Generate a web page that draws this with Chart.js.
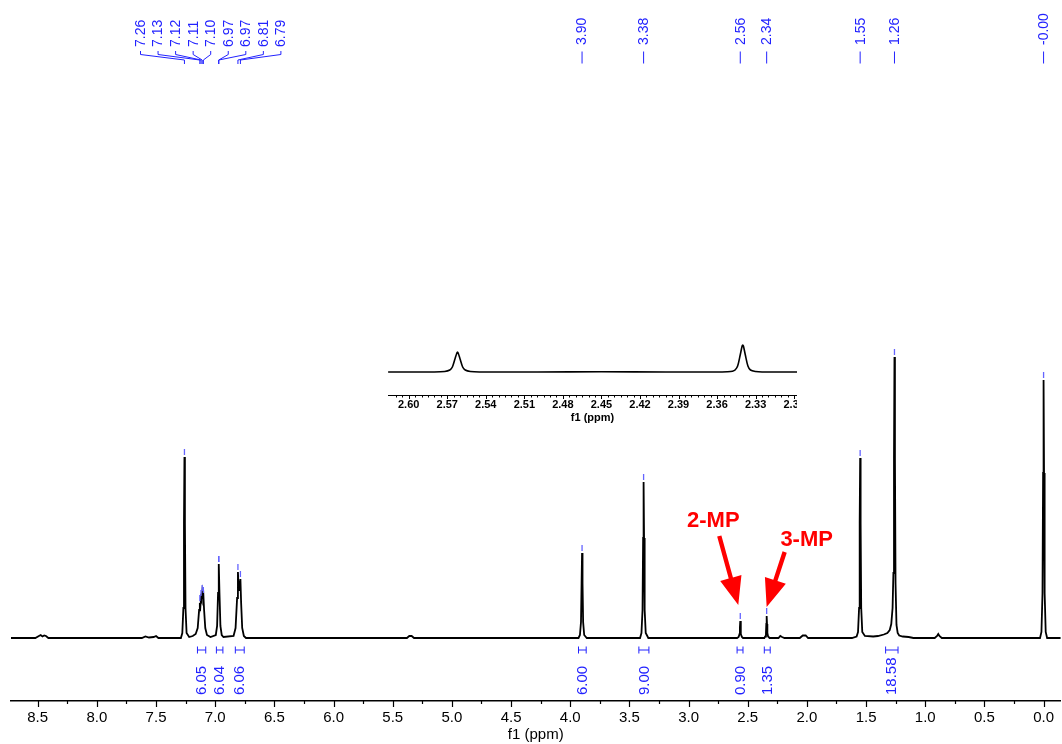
<!DOCTYPE html>
<html>
<head>
<meta charset="utf-8">
<script src="https://cdn.jsdelivr.net/npm/chart.js@4.4.1/dist/chart.umd.min.js"></script>
<style>
  html, body { margin: 0; padding: 0; background: #fff; }
  #wrap { position: relative; width: 1062px; height: 744px; overflow: hidden; }
  #main { position: absolute; left: 0; top: 0; }
  #insetBox { position: absolute; left: 380px; top: 325px; width: 417px; height: 100px; overflow: hidden; }
  #inset { position: absolute; left: 0; top: 0; }
</style>
</head>
<body>
<div id="wrap">
  <canvas id="main" width="1062" height="744"></canvas>
  <div id="insetBox"><canvas id="inset" width="440" height="100"></canvas></div>
</div>
<script>
// 1H spectrum trace, chemical shift (ppm) and intensity (arbitrary)
const specPpm = [
  8.73, 8.52, 8.49, 8.475, 8.46, 8.445, 8.43, 8.41,
  7.62, 7.59, 7.56, 7.52, 7.50, 7.48,
  7.29, 7.278, 7.269, 7.264, 7.26, 7.256, 7.251, 7.242, 7.22,
  7.19, 7.165, 7.148, 7.136, 7.13, 7.125, 7.12, 7.115, 7.11, 7.105, 7.10, 7.094, 7.084, 7.07, 7.04,
  6.995, 6.984, 6.976, 6.97, 6.964, 6.956, 6.945, 6.93,
  6.845, 6.828, 6.815, 6.808, 6.801, 6.797, 6.787, 6.781, 6.772, 6.758, 6.74,
  5.38, 5.36, 5.34, 5.32,
  3.93, 3.918, 3.909, 3.904, 3.90, 3.896, 3.891, 3.882, 3.86,
  3.41, 3.398, 3.389, 3.384, 3.38, 3.376, 3.371, 3.362, 3.34,
  2.59, 2.577, 2.569, 2.566, 2.563, 2.560, 2.557, 2.549, 2.54,
  2.36, 2.352, 2.346, 2.343, 2.34, 2.337, 2.334, 2.328, 2.315,
  2.24, 2.225, 2.21, 2.19,
  2.06, 2.035, 2.01, 1.99,
  1.62, 1.58, 1.568, 1.559, 1.554, 1.55, 1.546, 1.541, 1.532, 1.51,
  1.44, 1.40, 1.35, 1.32, 1.30, 1.287, 1.276, 1.269, 1.264, 1.26, 1.256, 1.251, 1.243, 1.233, 1.22, 1.19, 1.14, 1.10,
  0.92, 0.90, 0.89, 0.88, 0.86,
  0.03, 0.018, 0.009, 0.004, 0.0, -0.004, -0.009, -0.018, -0.03, -0.15
];
const specInt = [
  0, 0, 2, 3, 1.5, 2.5, 2, 0,
  0, 1.5, 0.5, 1, 2, 0,
  0, 5, 30, 115, 181, 115, 30, 5, 1,
  2, 4, 10, 28, 35, 32, 40, 38, 45, 40, 43, 28, 10, 3, 1,
  3, 12, 45, 74, 45, 12, 3, 1,
  2, 10, 40, 66, 48, 48, 59, 35, 10, 2, 0,
  0, 2, 2, 0,
  0, 3, 16, 55, 85, 55, 16, 3, 0,
  0, 5, 28, 100, 156, 100, 28, 5, 0,
  0, 1, 4, 11, 17, 11, 4, 1, 0,
  0, 1.5, 5, 14, 22, 14, 5, 1.5, 0,
  0, 2, 1, 0,
  0, 2.5, 2.5, 0,
  0, 1.5, 6, 30, 115, 180, 115, 30, 6, 2,
  1.5, 2, 3.5, 5, 8, 14, 30, 65, 180, 281, 180, 55, 13, 5, 2.5, 1.5, 1, 0,
  0, 2, 4, 2, 0,
  0, 6, 45, 165, 258, 165, 45, 6, 0, 0
];

// peak picking labels along the top
const peakLabels = ['7.26', '7.13', '7.12', '7.11', '7.10', '6.97', '6.97', '6.81', '6.79',
                    '3.90', '3.38', '2.56', '2.34', '1.55', '1.26', '-0.00'];
const peakPpm = [7.26, 7.13, 7.12, 7.11, 7.10, 6.97, 6.97, 6.808, 6.787,
                 3.90, 3.38, 2.563, 2.34, 1.55, 1.26, 0.00];
const peakTop = [181, 35, 40, 45, 43, 74, 74, 66, 59, 85, 156, 17, 22, 180, 281, 258];

// integrals
const intFrom = [7.15, 6.99, 6.83, 3.93, 3.42, 2.59, 2.36, 1.335];
const intTo = [7.08, 6.935, 6.755, 3.865, 3.335, 2.54, 2.31, 1.23];
const intLabels = ['6.05', '6.04', '6.06', '6.00', '9.00', '0.90', '1.35', '18.58'];

// annotations
const noteText = ['2-MP', '3-MP'];
const notePpm = [2.563, 2.34];
const noteTop = [17, 22];

// axis ticks
const xMajor = [8.5, 8.0, 7.5, 7.0, 6.5, 6.0, 5.5, 5.0, 4.5, 4.0, 3.5, 3.0, 2.5, 2.0, 1.5, 1.0, 0.5, 0.0];
const xMinor = [8.25, 7.75, 7.25, 6.75, 6.25, 5.75, 5.25, 4.75, 4.25, 3.75, 3.25, 2.75, 2.25, 1.75, 1.25, 0.75, 0.25];

// inset: expansion of 2.30 - 2.61 ppm
const insetPpm = [
  2.616, 2.58, 2.572, 2.568, 2.566, 2.564, 2.5625, 2.562, 2.5615, 2.560, 2.558, 2.556, 2.552, 2.545,
  2.50, 2.45, 2.40, 2.36,
  2.352, 2.348, 2.346, 2.344, 2.342, 2.3405, 2.340, 2.3395, 2.338, 2.336, 2.334, 2.330, 2.325, 2.2978
];
const insetInt = [
  0, 0, 0.5, 2, 5, 13, 19, 20, 19, 13, 5, 2, 0.5, 0,
  0, 0.3, 0, 0,
  0.3, 0.8, 2, 6, 17, 26, 27, 26, 17, 6, 2, 0.5, 0, 0
];
const insetMajor = [2.60, 2.57, 2.54, 2.51, 2.48, 2.45, 2.42, 2.39, 2.36, 2.33, 2.30];

const BLUE = '#2222ff';
const MARK = '#6464ff';
Chart.defaults.font.family = "'Liberation Sans', Arial, sans-serif";
Chart.defaults.color = '#000';

function seg(ctx, x1, y1, x2, y2) {
  ctx.beginPath();
  ctx.moveTo(x1, y1);
  ctx.lineTo(x2, y2);
  ctx.stroke();
}

function arrow(ctx, sx, sy, tx, ty) {
  const dx = tx - sx, dy = ty - sy, len = Math.hypot(dx, dy);
  const ux = dx / len, uy = dy / len, nx = -uy, ny = ux;
  const hl = 28, hw = 11, sw = 2.2;
  const bx = tx - ux * hl, by = ty - uy * hl;
  ctx.beginPath();
  ctx.moveTo(sx + nx * sw, sy + ny * sw);
  ctx.lineTo(bx + nx * sw, by + ny * sw);
  ctx.lineTo(bx + nx * hw, by + ny * hw);
  ctx.lineTo(tx, ty);
  ctx.lineTo(bx - nx * hw, by - ny * hw);
  ctx.lineTo(bx - nx * sw, by - ny * sw);
  ctx.lineTo(sx - nx * sw, sy - ny * sw);
  ctx.closePath();
  ctx.fill();
}

const decor = {
  id: 'decor',
  afterDraw(chart) {
    const { ctx, scales: { x, y } } = chart;
    const axisY = x.top;
    ctx.save();

    // x ticks
    ctx.strokeStyle = '#000';
    ctx.lineWidth = 1.2;
    xMajor.forEach(v => { const p = Math.round(x.getPixelForValue(v)) + 0.5; seg(ctx, p, axisY, p, axisY + 6); });
    xMinor.forEach(v => { const p = Math.round(x.getPixelForValue(v)) + 0.5; seg(ctx, p, axisY, p, axisY + 3); });

    // peak markers over the tops
    ctx.strokeStyle = MARK;
    ctx.lineWidth = 1.3;
    peakPpm.forEach((v, i) => {
      const p = x.getPixelForValue(v), t = y.getPixelForValue(peakTop[i]);
      seg(ctx, p, t - 8, p, t - 2);
    });

    // peak labels
    ctx.fillStyle = BLUE;
    ctx.strokeStyle = BLUE;
    ctx.lineWidth = 1;
    ctx.font = "14px 'Liberation Sans', Arial, sans-serif";
    ctx.textBaseline = 'middle';
    peakLabels.forEach((lab, i) => {
      const p = x.getPixelForValue(peakPpm[i]);
      let lx, bottom;
      if (i < 9) {
        lx = 140.5 + i * 17.55;
        bottom = 47;
        seg(ctx, lx, 51, lx, 54.5);
        ctx.beginPath();
        ctx.moveTo(lx, 54.5);
        ctx.lineTo(p, 60);
        ctx.lineTo(p, 64);
        ctx.stroke();
      } else {
        lx = p;
        bottom = 45;
        seg(ctx, lx, 51.5, lx, 63.5);
      }
      ctx.save();
      ctx.translate(lx + 0.5, bottom);
      ctx.rotate(-Math.PI / 2);
      ctx.textAlign = 'left';
      ctx.fillText(lab, 0, 0);
      ctx.restore();
    });

    // integrals
    ctx.font = "15px 'Liberation Sans', Arial, sans-serif";
    intLabels.forEach((lab, i) => {
      const x1 = x.getPixelForValue(intFrom[i]), x2 = x.getPixelForValue(intTo[i]);
      seg(ctx, x1, 650, x2, 650);
      seg(ctx, x1, 646.5, x1, 653.5);
      seg(ctx, x2, 646.5, x2, 653.5);
      ctx.save();
      ctx.translate((x1 + x2) / 2 + 0.5, 695);
      ctx.rotate(-Math.PI / 2);
      ctx.textAlign = 'left';
      ctx.fillText(lab, 0, 0);
      ctx.restore();
    });

    // red arrows and notes
    ctx.fillStyle = '#ff0000';
    ctx.font = "bold 22px 'Liberation Sans', Arial, sans-serif";
    ctx.textAlign = 'center';
    const offs = [
      { tip: [-2, -16], start: [-19, -69], text: [-25, -84] },
      { tip: [0, -9], start: [18, -55], text: [40, -67] }
    ];
    noteText.forEach((t, i) => {
      const tx = x.getPixelForValue(notePpm[i]) + offs[i].tip[0];
      const ty = y.getPixelForValue(noteTop[i]) + offs[i].tip[1];
      arrow(ctx, tx + offs[i].start[0], ty + offs[i].start[1], tx, ty);
      ctx.fillText(t, tx + offs[i].text[0], ty + offs[i].text[1]);
    });
    ctx.restore();
  }
};

const insetTicks = {
  id: 'insetTicks',
  afterDraw(chart) {
    const { ctx, scales: { x } } = chart;
    const axisY = x.top;
    ctx.save();
    ctx.strokeStyle = '#000';
    ctx.lineWidth = 1;
    for (let k = 0; k <= 62; k++) {
      const v = 2.61 - k * 0.005;
      if (v < x.min || v > x.max) continue;
      const p = Math.round(x.getPixelForValue(v)) + 0.5;
      seg(ctx, p, axisY, p, axisY + 2.5);
    }
    insetMajor.forEach(v => {
      const p = Math.round(x.getPixelForValue(v)) + 0.5;
      seg(ctx, p, axisY, p, axisY + 4);
    });
    ctx.restore();
  }
};

new Chart(document.getElementById('main'), {
  type: 'line',
  data: {
    datasets: [{
      data: specPpm.map((v, i) => ({ x: v, y: specInt[i] })),
      borderColor: '#000',
      borderWidth: 1.8,
      pointRadius: 0,
      tension: 0,
      fill: false
    }]
  },
  options: {
    responsive: false,
    animation: false,
    events: [],
    layout: { autoPadding: false, padding: { left: 11, right: 0, top: 0, bottom: 0 } },
    plugins: { legend: { display: false }, tooltip: { enabled: false } },
    scales: {
      x: {
        type: 'linear',
        reverse: true,
        min: -0.1435,
        max: 8.7257,
        grid: { display: false, drawTicks: false },
        border: { display: true, color: '#000', width: 1.5 },
        afterBuildTicks: axis => { axis.ticks = xMajor.map(v => ({ value: v })); },
        afterFit: scale => { scale.height = 43; },
        ticks: {
          autoSkip: false,
          maxRotation: 0,
          padding: 8,
          font: { size: 15 },
          callback: v => v.toFixed(1)
        },
        title: { display: true, text: 'f1 (ppm)', font: { size: 15 }, padding: { top: 0, bottom: 0 } }
      },
      y: { display: false, min: -63, max: 638 }
    }
  },
  plugins: [decor]
});

new Chart(document.getElementById('inset'), {
  type: 'line',
  data: {
    datasets: [{
      data: insetPpm.map((v, i) => ({ x: v, y: insetInt[i] })),
      borderColor: '#000',
      borderWidth: 1.6,
      pointRadius: 0,
      tension: 0.3,
      fill: false
    }]
  },
  options: {
    responsive: false,
    animation: false,
    events: [],
    layout: { autoPadding: false, padding: { left: 8, right: 23, top: 0, bottom: 0 } },
    plugins: { legend: { display: false }, tooltip: { enabled: false } },
    scales: {
      x: {
        type: 'linear',
        reverse: true,
        min: 2.2978,
        max: 2.6161,
        grid: { display: false, drawTicks: false },
        border: { display: true, color: '#000', width: 1 },
        afterBuildTicks: axis => { axis.ticks = insetMajor.map(v => ({ value: v })); },
        afterFit: scale => { scale.height = 30; },
        ticks: {
          autoSkip: false,
          maxRotation: 0,
          padding: 3,
          font: { size: 11, weight: 'bold' },
          callback: v => v.toFixed(2)
        },
        title: { display: true, text: 'f1 (ppm)', font: { size: 11, weight: 'bold' }, padding: { top: 0, bottom: 0 } }
      },
      y: { display: false, min: -23, max: 47 }
    }
  },
  plugins: [insetTicks]
});
</script>
</body>
</html>
